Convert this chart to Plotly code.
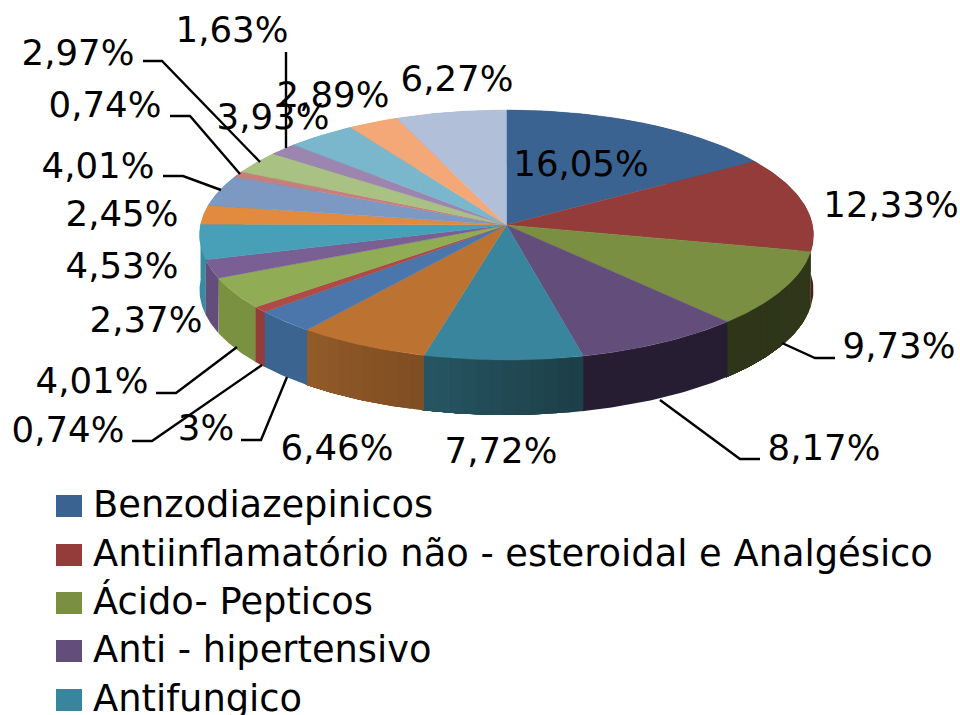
import numpy as np
import plotly.graph_objects as go

# ---- data ----
values = [16.05, 12.33, 9.73, 8.17, 7.72, 6.46, 3, 0.74, 4.01, 2.37, 4.53, 2.45, 4.01, 0.74, 2.97, 1.63, 3.93, 2.89, 6.27]
value_labels = ["16,05%", "12,33%", "9,73%", "8,17%", "7,72%", "6,46%", "3%", "0,74%", "4,01%", "2,37%",
                "4,53%", "2,45%", "4,01%", "0,74%", "2,97%", "1,63%", "3,93%", "2,89%", "6,27%"]
legend_names = ["Benzodiazepinicos", "Antiinflamatório não - esteroidal e Analgésico",
                "Ácido- Pepticos", "Anti - hipertensivo", "Antifungico"]

# ---- styles ----
top_colors = ["#3B6392", "#943C3A", "#7A8F41", "#634D7B", "#38859D", "#BC7231", "#4A76AC", "#AF4A47", "#90AC55",
              "#7A5F95", "#47A0B8", "#E28A3E", "#7C99C4", "#C77F7D", "#A9C183", "#9C86B0", "#7AB6CC", "#F4A777", "#B1BFD8"]
side_start = ["#2A4668", "#4F1F1E", "#30381A", "#261D33", "#1C3E48", "#7E4E22", "#3C6490", "#943C3A", "#7A9142",
              "#634D7B", "#3A8AA0", "#3A8AA0", "#3A8AA0", "#AF4A47", "#90AC55", "#7A5F95", "#47A0B8", "#E28A3E", "#7C99C4"]
side_end = ["#2A4668", "#4F1F1E", "#2E3519", "#261D33", "#275663", "#925B2A", "#3C6490", "#943C3A", "#7A9142",
            "#634D7B", "#3A8AA0", "#3A8AA0", "#3A8AA0", "#AF4A47", "#90AC55", "#7A5F95", "#47A0B8", "#E28A3E", "#7C99C4"]

# ---- projection of the tilted pie ----
CX, CY, RX, RY, PERSP, DEPTH = 506.5, 225, 306, 124.2, 0.08, 55


def project(theta):
    X, Y = np.sin(theta), np.cos(theta)
    d = 1 + PERSP * Y
    return CX + RX * X / d, CY - RY * Y / d


def hex_rgb(c):
    return np.array([int(c[i:i + 2], 16) for i in (1, 3, 5)], dtype=float)


fig = go.Figure()
cum = np.concatenate([[0], np.cumsum(values)]) / sum(values) * 2 * np.pi


def poly(x, y, color, width=0.0):
    fig.add_trace(go.Scatter(x=list(x), y=list(y), mode="lines", fill="toself", fillcolor=color,
                             line=dict(color=color, width=width), hoverinfo="skip", showlegend=False))


# side wall: each step overlaps all the way to the slice end, so no seams show
for i in range(len(values)):
    a0, a1 = cum[i], cum[i + 1]
    same = side_start[i] == side_end[i]
    n = 1 if same else max(2, int((a1 - a0) / 0.04))
    edges = np.linspace(a0, a1, n + 1)
    c0, c1 = hex_rgb(side_start[i]), hex_rgb(side_end[i])
    for k in range(n):
        t = (k + 0.5) / n
        c = c0 + (c1 - c0) * t
        col = "rgb(%d,%d,%d)" % tuple(c)
        th = np.linspace(edges[k], a1 + 0.004, 40)
        x, y = project(th)
        poly(np.r_[x, x[::-1], x[0]], np.r_[y, y[::-1] + DEPTH, y[0]], col)

# top face
for i in range(len(values)):
    th = np.linspace(cum[i], cum[i + 1], max(4, int((cum[i + 1] - cum[i]) / 0.01)))
    x, y = project(th)
    poly(np.r_[CX, x, CX], np.r_[CY, y, CY], top_colors[i], 0.4)

# leader lines
leaders = [
    ([286, 286], [52, 148]),
    ([143, 162, 260], [61, 61, 162]),
    ([170, 190, 240], [116, 116, 174]),
    ([163, 183, 221], [176, 176, 190]),
    ([156, 176, 237], [393, 393, 347]),
    ([132, 152, 262], [441, 441, 365]),
    ([241, 261, 287], [440, 440, 377]),
    ([782, 815, 835], [343, 358, 358]),
    ([660, 740, 760], [400, 459, 459]),
]
for lx, ly in leaders:
    fig.add_trace(go.Scatter(x=lx, y=ly, mode="lines", line=dict(color="black", width=2.4),
                             hoverinfo="skip", showlegend=False))

# value labels
label_x = [581, 891, 899, 824, 501, 337, 206, 68, 92, 146, 122, 122, 98, 105, 78, 232, 273, 333, 457]
label_y = [167, 208, 349, 451, 454, 451, 431, 433, 384, 323, 269, 217, 169, 108, 56, 33, 120, 98, 82]
fig.add_trace(go.Scatter(x=label_x, y=label_y, mode="text", text=value_labels, textposition="middle center",
                         textfont=dict(family="DejaVu Sans", size=35.5, color="black"),
                         hoverinfo="skip", showlegend=False))

# legend
key_x0, key_x1 = 56, 82
key_tops = [495, 544, 592, 640, 689]
key_h = 22
shapes = []
for name, color, ky in zip(legend_names, top_colors, key_tops):
    shapes.append(dict(type="rect", xref="x", yref="y", x0=key_x0, x1=key_x1, y0=ky, y1=ky + key_h,
                       fillcolor=color, line=dict(width=0), layer="above"))
fig.add_trace(go.Scatter(x=[93] * 5, y=[k + 13 for k in key_tops], mode="text", text=legend_names,
                         textposition="middle right",
                         textfont=dict(family="DejaVu Sans", size=36.8, color="black"),
                         hoverinfo="skip", showlegend=False, cliponaxis=True))

fig.update_layout(
    width=960, height=715, margin=dict(l=0, r=0, t=0, b=0),
    paper_bgcolor="white", plot_bgcolor="white", showlegend=False, shapes=shapes,
    xaxis=dict(range=[0, 960], visible=False, fixedrange=True),
    yaxis=dict(range=[715, 0], visible=False, fixedrange=True),
)
fig.write_html("out.html", config={"displayModeBar": False},
               post_script="document.body.style.margin='0';document.body.style.overflow='hidden';")
